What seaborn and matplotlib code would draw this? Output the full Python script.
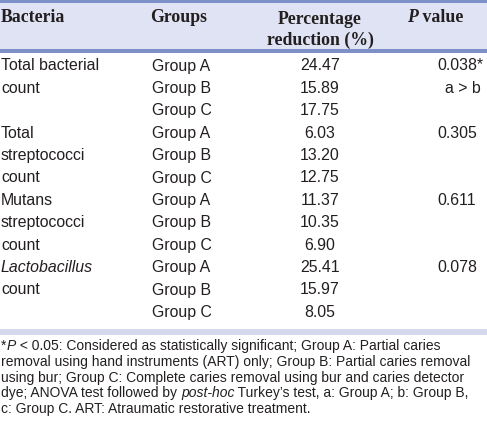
import matplotlib
matplotlib.use("Agg")
import matplotlib.pyplot as plt
import seaborn as sns

sns.set_theme(style="white")
plt.rcParams['font.family'] = ['Liberation Sans', 'DejaVu Sans']

# table content
headers = ["Bacteria", "Groups", "Percentage\nreduction (%)", " value"]
bacteria = ["Total bacterial\ncount", "Total\nstreptococci\ncount",
            "Mutans\nstreptococci\ncount", "Lactobacillus\ncount"]
groups = ["Group A", "Group B", "Group C"]
reduction = [24.47, 15.89, 17.75,
             6.03, 13.20, 12.75,
             11.37, 10.35, 6.90,
             25.41, 15.97, 8.05]
p_values = ["0.038*", "0.305", "0.611", "0.078"]
p_notes = ["a > b", "", "", ""]

ink = "#231f20"
row_h = 22.4
first_row = 66

fig = plt.figure(figsize=(4.87, 4.21), dpi=100)
ax = fig.add_axes([0, 0, 1, 1])
ax.set_xlim(0, 487)
ax.set_ylim(421, 0)
ax.axis('off')


def right_of(t):
    # x position (data units) just after a drawn text
    fig.canvas.draw()
    bb = t.get_window_extent()
    return ax.transData.inverted().transform((bb.x1, 0))[0]


# header band and rules
ax.axhspan(0, 3, color="#7d90c8", lw=0)
ax.axhspan(3, 48.5, color="#dfe3f3", lw=0)
ax.axhspan(48.5, 53, color="#7d90c8", lw=0)
ax.axhspan(328.5, 334.5, color="#d4d9ee", lw=0)

hsize = 12.8
hfont = dict(family="Liberation Serif", fontweight="bold", fontsize=hsize, color=ink)
ax.text(1, 18, headers[0], ha="left", va="center", **hfont)
ax.text(150, 18, headers[1], ha="left", va="center", **hfont)
ax.text(320, 30, headers[2], ha="center", va="center", linespacing=1.3, **hfont)
tp = ax.text(407, 18, "P", ha="left", va="center", family="Liberation Serif",
             fontweight="bold", fontstyle="italic", fontsize=hsize, color=ink)
ax.text(right_of(tp), 18, headers[3], ha="left", va="center", **hfont)

bfont = dict(fontsize=11.4, color=ink)
for i, name in enumerate(bacteria):
    y0 = first_row + 3 * i * row_h
    lines = name.split("\n")
    for k, line in enumerate(lines):
        style = "italic" if line == "Lactobacillus" else "normal"
        ax.text(1, y0 + k * row_h, line, ha="left", va="center", fontstyle=style, **bfont)
    ax.text(437, y0, p_values[i], ha="left", va="center", **bfont)
    if p_notes[i]:
        ax.text(463, y0 + row_h, p_notes[i], ha="center", va="center", **bfont)

for j, val in enumerate(reduction):
    y = first_row + j * row_h
    ax.text(152, y, groups[j % 3], ha="left", va="center", **bfont)
    ax.text(320, y, f"{val:.2f}", ha="center", va="center", **bfont)

# footnote
fsize = 10.0
ffont = dict(fontsize=fsize, color=ink, ha="left", va="center")
foot_y = [346, 362, 378, 393.5, 409]
t = ax.text(1, foot_y[0], "*", **ffont)
t = ax.text(right_of(t), foot_y[0], "P", fontstyle="italic", **ffont)
ax.text(right_of(t), foot_y[0],
        " < 0.05: Considered as statistically significant; Group A: Partial caries", **ffont)
ax.text(1, foot_y[1], "removal using hand instruments (ART) only; Group B: Partial caries removal", **ffont)
ax.text(1, foot_y[2], "using bur; Group C: Complete caries removal using bur and caries detector", **ffont)
t = ax.text(1, foot_y[3], "dye; ANOVA test followed by ", **ffont)
t = ax.text(right_of(t), foot_y[3], "post-hoc", fontstyle="italic", **ffont)
ax.text(right_of(t), foot_y[3], " Turkey\u2019s test, a: Group A; b: Group B,", **ffont)
ax.text(1, foot_y[4], "c: Group C. ART: Atraumatic restorative treatment.", **ffont)

fig.savefig("out.png", dpi=100)
